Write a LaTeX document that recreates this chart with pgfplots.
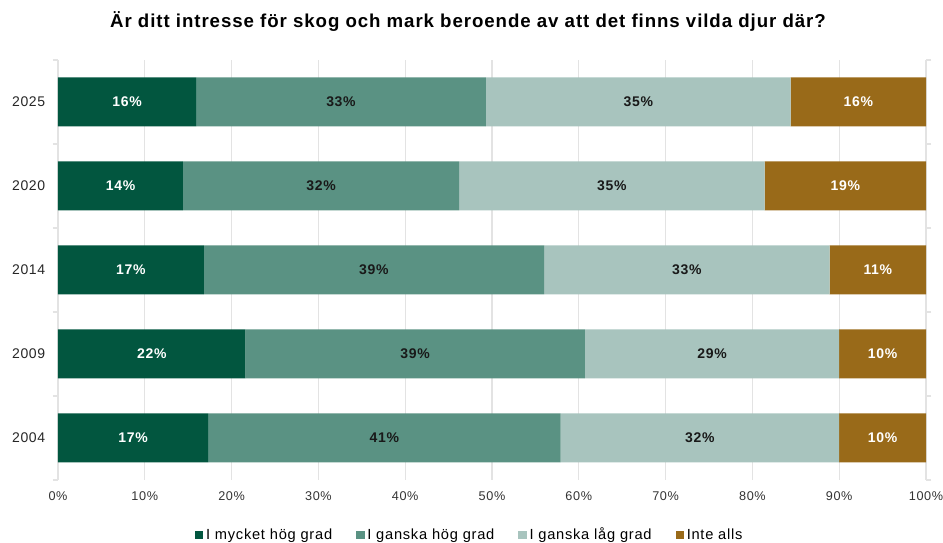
\documentclass[border=0pt]{standalone}
\usepackage{pgfplots}
\usepackage{pgfplotstable}
\pgfplotsset{compat=1.18}
\usepackage{fontspec}
\setmainfont{Liberation Sans}[LetterSpace=5]
\definecolor{cdark}{HTML}{02563F}
\definecolor{cmed}{HTML}{5A9283}
\definecolor{clight}{HTML}{A8C4BE}
\definecolor{cbrown}{HTML}{996A19}
\definecolor{cgrid}{HTML}{E3E3E3}
\pgfplotstableread{
y a b c d
0 17.3 40.6 32.1 10.0
1 21.6 39.1 29.3 10.0
2 16.8 39.2 32.9 11.1
3 14.4 31.8 35.2 18.6
4 15.9 33.4 35.1 15.6
}\data
\pgfplotstablecreatecol[create col/expr={\thisrow{a}/2}]{ma}\data
\pgfplotstablecreatecol[create col/expr={\thisrow{a}+\thisrow{b}/2}]{mb}\data
\pgfplotstablecreatecol[create col/expr={\thisrow{a}+\thisrow{b}+\thisrow{c}/2}]{mc}\data
\pgfplotstablecreatecol[create col/expr={\thisrow{a}+\thisrow{b}+\thisrow{c}+\thisrow{d}/2}]{md}\data
\begin{document}
\begin{tikzpicture}
\pgfplotsset{
  common/.style={
    width=651pt, height=315pt, scale only axis,
    xmin=0, xmax=100, ymin=-0.5, ymax=4.5,
    /pgf/number format/assume math mode=true,
  }
}
\begin{axis}[common, name=main,
  xbar stacked, bar width=36.75pt,
  axis line style={draw=none},
  xtick={0,10,...,100},
  xticklabel={\pgfmathprintnumber{\tick}\%},
  xticklabel style={font=\fontsize{9.5}{11}\selectfont, color=black!80, yshift=-5pt},
  xmajorgrids, major grid style={cgrid, line width=0.8pt},
  ytick={0,1,2,3,4},
  yticklabels={2004,2009,2014,2020,2025},
  yticklabel style={font=\fontsize{10.5}{12}\selectfont, color=black!85, xshift=-6pt},
  minor ytick={-0.5,0.5,1.5,2.5,3.5,4.5},
  major tick length=0pt, minor tick length=4pt,
  tick align=outside, minor tick style={cgrid, line width=0.8pt},
  title={Är ditt intresse för skog och mark beroende av att det finns vilda djur där?},
  title style={at={(0.5,1)}, anchor=center, yshift=22.5pt, xshift=-18pt, font=\bfseries\fontsize{14}{16}\selectfont},
  legend columns=4,
  legend style={at={(0.5,0)}, anchor=center, yshift=-41.25pt, xshift=-16.5pt, draw=none, fill=none,
    font=\fontsize{11}{13}\selectfont, /tikz/every even column/.append style={column sep=16pt}},
  legend image code/.code={\fill[#1] (0pt,-3.2pt) rectangle (6.4pt,3.2pt);},
]
\addplot[fill=cdark, draw=none] table[x=a, y=y] {\data};
\addplot[fill=cmed, draw=none] table[x=b, y=y] {\data};
\addplot[fill=clight, draw=none] table[x=c, y=y] {\data};
\addplot[fill=cbrown, draw=none] table[x=d, y=y] {\data};
\legend{I mycket hög grad, I ganska hög grad, I ganska låg grad, Inte alls}
\end{axis}
\begin{axis}[common, hide axis,
  nodes near coords={\pgfmathprintnumber[fixed,precision=0]{\pgfplotspointmeta}\%},
  nodes near coords style={anchor=center, font=\bfseries\fontsize{10.5}{12}\selectfont},
  point meta=explicit,
]
\addplot[draw=none, mark=none, nodes near coords style={text=white}] table[x=ma, y=y, meta=a] {\data};
\addplot[draw=none, mark=none, nodes near coords style={text=black!90}] table[x=mb, y=y, meta=b] {\data};
\addplot[draw=none, mark=none, nodes near coords style={text=black!90}] table[x=mc, y=y, meta=c] {\data};
\addplot[draw=none, mark=none, nodes near coords style={text=white}] table[x=md, y=y, meta=d] {\data};
\end{axis}
\pgfresetboundingbox
\path[use as bounding box] ([xshift=-43.5pt,yshift=-47.25pt]main.south west) rectangle ([xshift=12.75pt,yshift=45pt]main.north east);
\end{tikzpicture}
\end{document}
